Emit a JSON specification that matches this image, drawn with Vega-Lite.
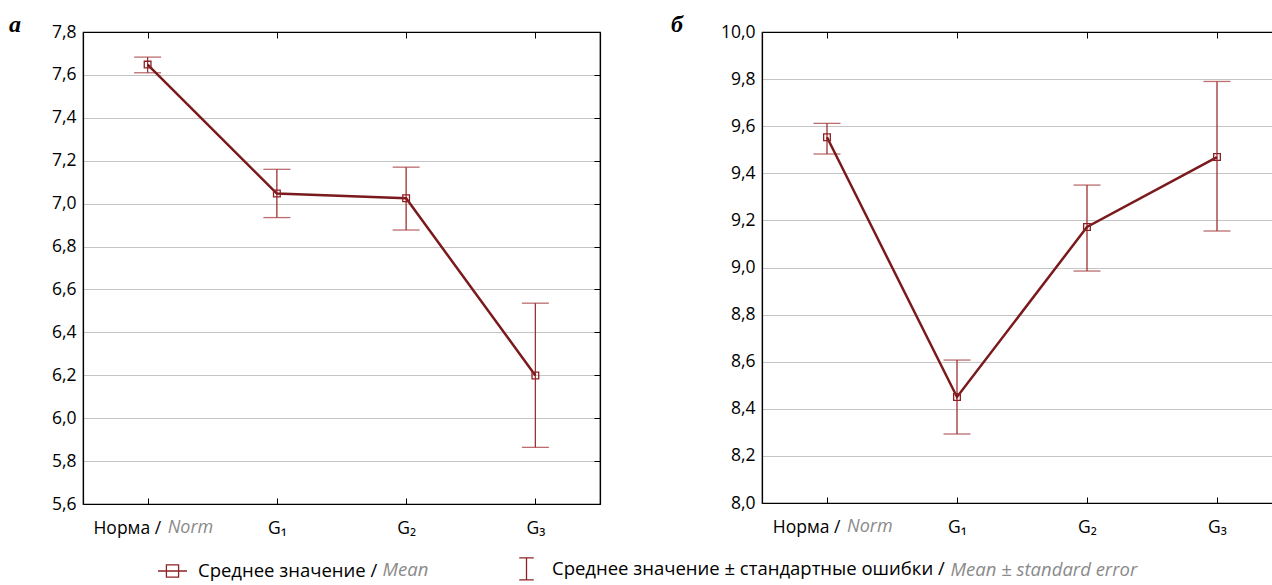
{
  "$schema": "https://vega.github.io/schema/vega-lite/v6.json",
  "background": "white",
  "padding": {"left": 8, "top": 12, "right": 0, "bottom": 0},
  "datasets": {
    "a": [
      {"group": "Норма", "mean": 7.648, "lo": 7.61, "hi": 7.683, "en": "Norm"},
      {"group": "G₁", "mean": 7.047, "lo": 6.935, "hi": 7.16, "en": ""},
      {"group": "G₂", "mean": 7.025, "lo": 6.877, "hi": 7.17, "en": ""},
      {"group": "G₃", "mean": 6.199, "lo": 5.864, "hi": 6.536, "en": ""}
    ],
    "b": [
      {"group": "Норма", "mean": 9.553, "lo": 9.482, "hi": 9.612, "en": "Norm"},
      {"group": "G₁", "mean": 8.45, "lo": 8.293, "hi": 8.607, "en": ""},
      {"group": "G₂", "mean": 9.172, "lo": 8.985, "hi": 9.35, "en": ""},
      {"group": "G₃", "mean": 9.469, "lo": 9.155, "hi": 9.79, "en": ""}
    ]
  },
  "config": {
    "font": "Open Sans",
    "view": {"stroke": "black", "strokeWidth": 1.2},
    "axis": {
      "title": null,
      "labelFont": "Open Sans",
      "labelFontSize": 17.5,
      "labelColor": "black",
      "domainColor": "black",
      "domainWidth": 1.2,
      "tickColor": "black",
      "tickWidth": 1
    }
  },
  "spacing": 68,
  "resolve": {"scale": {"x": "independent", "y": "independent", "shape": "shared", "strokeDash": "shared"}},
  "hconcat": [
    {
      "width": 517,
      "height": 472,
      "data": {"name": "a"},
      "title": {"text": "a", "font": "Liberation Serif", "fontSize": 24, "fontWeight": "bold", "fontStyle": "italic", "anchor": "start", "frame": "group", "dx": -74, "offset": -33, "baseline": "alphabetic", "color": "black"},
      "resolve": {"axis": {"x": "independent", "y": "independent"}},
      "layer": [
        {
          "mark": {"type": "rule", "color": "#9e2f33", "strokeWidth": 1.3},
          "encoding": {
            "x": {"field": "group", "type": "nominal", "scale": {"type": "point", "padding": 0.5, "domain": ["Норма", "G₁", "G₂", "G₃"]},
              "axis": {"orient": "bottom", "tickSize": -6, "labelPadding": 30, "labelBaseline": "middle", "labelAngle": 0,
                "labelExpr": "datum.value === 'Норма' ? 'Норма /' : datum.value",
                "labelAlign": {"condition": {"test": "datum.value === 'Норма'", "value": "right"}, "value": "center"},
                "labelOffset": {"condition": {"test": "datum.value === 'Норма'", "value": 13}, "value": 0}}},
            "y": {"field": "lo", "type": "quantitative", "scale": {"domain": [5.6, 7.8], "nice": false, "zero": false},
              "axis": {"orient": "left", "values": [5.6, 5.8, 6.0, 6.2, 6.4, 6.6, 6.8, 7.0, 7.2, 7.4, 7.6, 7.8], "ticks": false, "labelPadding": 7, "grid": true, "gridColor": "#c4c4c4", "gridWidth": 1,
                "labelExpr": "replace(format(datum.value, '.1f'), '.', ',')"}},
            "y2": {"field": "hi"}
          }
        },
        {
          "mark": {"type": "tick", "color": "#9e2f33", "size": 27, "thickness": 1.3, "orient": "horizontal"},
          "encoding": {
            "x": {"field": "group", "type": "nominal", "axis": {"orient": "top", "labels": false, "tickSize": -6, "grid": false, "minExtent": 0, "maxExtent": 0, "labelPadding": 0}},
            "y": {"field": "hi", "type": "quantitative", "axis": {"orient": "right", "labels": false, "grid": false, "tickSize": -6, "values": [5.6, 5.8, 6.0, 6.2, 6.4, 6.6, 6.8, 7.0, 7.2, 7.4, 7.6, 7.8]}}
          }
        },
        {
          "mark": {"type": "tick", "color": "#9e2f33", "size": 27, "thickness": 1.3, "orient": "horizontal"},
          "encoding": {
            "x": {"field": "group", "type": "nominal", "axis": null},
            "y": {"field": "lo", "type": "quantitative", "axis": null}
          }
        },
        {
          "mark": {"type": "line", "color": "#7b1a1c", "strokeWidth": 2.5},
          "encoding": {
            "x": {"field": "group", "type": "nominal", "axis": null},
            "y": {"field": "mean", "type": "quantitative", "axis": null}
          }
        },
        {
          "mark": {"type": "point", "shape": "square", "filled": false, "color": "#8e2125", "size": 45, "strokeWidth": 1.3, "opacity": 1},
          "encoding": {
            "x": {"field": "group", "type": "nominal", "axis": null},
            "y": {"field": "mean", "type": "quantitative", "axis": null}
          }
        },
        {
          "mark": {"type": "text", "font": "Open Sans", "fontStyle": "italic", "fontSize": 18, "color": "#8a8a8a", "align": "left", "baseline": "middle", "dx": 20, "dy": 24},
          "encoding": {
            "x": {"field": "group", "type": "nominal", "axis": null},
            "y": {"datum": 5.6, "type": "quantitative", "axis": null},
            "text": {"field": "en"}
          }
        },
        {
          "mark": {"type": "point", "size": 0, "filled": false, "color": "#8e2125", "strokeWidth": 1.3},
          "encoding": {
            "x": {"field": "group", "type": "nominal", "axis": null},
            "y": {"field": "mean", "type": "quantitative", "axis": null},
            "shape": {"datum": "Среднее значение /", "type": "nominal",
              "scale": {"domain": ["Среднее значение /", "Среднее значение ± стандартные ошибки /"],
                "range": ["M-1,0H1M-0.42,-0.42H0.42V0.42H-0.42Z", "M-0.5,-0.76H0.5M0,-0.76V0.76M-0.5,0.76H0.5"]},
              "legend": {"orient": "none", "legendX": 74, "legendY": 521, "direction": "horizontal", "title": null,
                "labelFont": "Open Sans", "labelFontSize": 18.5, "labelColor": "black", "labelLimit": 1000,
                "symbolSize": 841, "labelOffset": 10, "columnPadding": 133,
                "symbolStrokeColor": "#8e2125", "symbolFillColor": "transparent", "symbolStrokeWidth": 1.3, "symbolOpacity": 1}}
          }
        },
        {
          "mark": {"type": "point", "size": 0, "opacity": 0},
          "encoding": {
            "x": {"field": "group", "type": "nominal", "axis": null},
            "y": {"field": "mean", "type": "quantitative", "axis": null},
            "strokeDash": {"datum": "Mean", "type": "nominal",
              "scale": {"domain": ["Mean", "Mean ± standard error"], "range": [[1, 0], [1, 0]]},
              "legend": {"orient": "none", "legendX": 281, "legendY": 529, "direction": "horizontal", "title": null,
                "labelFont": "Open Sans", "labelFontSize": 18.5, "labelFontStyle": "italic", "labelColor": "#8a8a8a", "labelLimit": 1000,
                "symbolSize": 0, "symbolOpacity": 0, "symbolStrokeWidth": 0, "labelOffset": 0, "columnPadding": 503}}
          }
        }
      ]
    },
    {
      "width": 520,
      "height": 471,
      "data": {"name": "b"},
      "title": {"text": "б", "font": "Liberation Serif", "fontSize": 24, "fontWeight": "bold", "fontStyle": "italic", "anchor": "start", "frame": "group", "dx": -91, "offset": -33, "baseline": "alphabetic", "color": "black"},
      "resolve": {"axis": {"x": "independent", "y": "independent"}},
      "layer": [
        {
          "mark": {"type": "rule", "color": "#9e2f33", "strokeWidth": 1.3},
          "encoding": {
            "x": {"field": "group", "type": "nominal", "scale": {"type": "point", "padding": 0.5, "domain": ["Норма", "G₁", "G₂", "G₃"]},
              "axis": {"orient": "bottom", "tickSize": -6, "labelPadding": 30, "labelBaseline": "middle", "labelAngle": 0,
                "labelExpr": "datum.value === 'Норма' ? 'Норма /' : datum.value",
                "labelAlign": {"condition": {"test": "datum.value === 'Норма'", "value": "right"}, "value": "center"},
                "labelOffset": {"condition": {"test": "datum.value === 'Норма'", "value": 13}, "value": 0}}},
            "y": {"field": "lo", "type": "quantitative", "scale": {"domain": [8.0, 10.0], "nice": false, "zero": false},
              "axis": {"orient": "left", "values": [8.0, 8.2, 8.4, 8.6, 8.8, 9.0, 9.2, 9.4, 9.6, 9.8, 10.0], "ticks": false, "labelPadding": 7, "grid": true, "gridColor": "#c4c4c4", "gridWidth": 1,
                "labelExpr": "replace(format(datum.value, '.1f'), '.', ',')"}},
            "y2": {"field": "hi"}
          }
        },
        {
          "mark": {"type": "tick", "color": "#9e2f33", "size": 27, "thickness": 1.3, "orient": "horizontal"},
          "encoding": {
            "x": {"field": "group", "type": "nominal", "axis": {"orient": "top", "labels": false, "tickSize": -6, "grid": false, "minExtent": 0, "maxExtent": 0, "labelPadding": 0}},
            "y": {"field": "hi", "type": "quantitative", "axis": {"orient": "right", "labels": false, "grid": false, "tickSize": -6, "values": [8.0, 8.2, 8.4, 8.6, 8.8, 9.0, 9.2, 9.4, 9.6, 9.8, 10.0]}}
          }
        },
        {
          "mark": {"type": "tick", "color": "#9e2f33", "size": 27, "thickness": 1.3, "orient": "horizontal"},
          "encoding": {
            "x": {"field": "group", "type": "nominal", "axis": null},
            "y": {"field": "lo", "type": "quantitative", "axis": null}
          }
        },
        {
          "mark": {"type": "line", "color": "#7b1a1c", "strokeWidth": 2.5},
          "encoding": {
            "x": {"field": "group", "type": "nominal", "axis": null},
            "y": {"field": "mean", "type": "quantitative", "axis": null}
          }
        },
        {
          "mark": {"type": "point", "shape": "square", "filled": false, "color": "#8e2125", "size": 45, "strokeWidth": 1.3, "opacity": 1},
          "encoding": {
            "x": {"field": "group", "type": "nominal", "axis": null},
            "y": {"field": "mean", "type": "quantitative", "axis": null}
          }
        },
        {
          "mark": {"type": "text", "font": "Open Sans", "fontStyle": "italic", "fontSize": 18, "color": "#8a8a8a", "align": "left", "baseline": "middle", "dx": 20, "dy": 24},
          "encoding": {
            "x": {"field": "group", "type": "nominal", "axis": null},
            "y": {"datum": 8.0, "type": "quantitative", "axis": null},
            "text": {"field": "en"}
          }
        }
      ]
    }
  ]
}
